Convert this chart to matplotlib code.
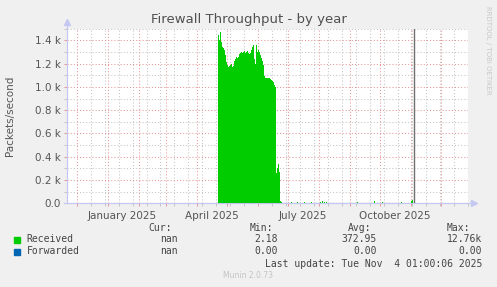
import numpy as np
import matplotlib
matplotlib.use("Agg")
import matplotlib.pyplot as plt
import matplotlib.dates as mdates
from matplotlib.patches import Rectangle
import datetime as dt

# ---------------- data (packets/second, daily averages) ----------------
title = "Firewall Throughput - by year"
ylabel = "Packets/second"

main_start = "2025-04-22"
received_main = [1450, 1400, 1470, 1390, 1340, 1330, 1320, 1270, 1210, 1190,
                 1170, 1180, 1190, 1200, 1170, 1180, 1220, 1240, 1260, 1250,
                 1260, 1280, 1290, 1300, 1290, 1300, 1310, 1290, 1300, 1310,
                 1290, 1280, 1290, 1320, 1340, 1360, 1240, 1200, 1360, 1300,
                 1320, 1300, 1270, 1250, 1220, 1190, 1090, 1080, 1080, 1080,
                 1080, 1080, 1070, 1060, 1050, 1040, 1020, 1000, 260, 300,
                 340, 270, 20]

quiet_level = 3          # near-zero traffic after mid-June
blip_dates = ["2025-06-24", "2025-07-04", "2025-07-10", "2025-07-17", "2025-07-24",
              "2025-08-02", "2025-08-04", "2025-08-06", "2025-08-08", "2025-09-08",
              "2025-09-25", "2025-10-03", "2025-10-22", "2025-11-01", "2025-11-02"]
blip_values = [15, 12, 12, 14, 14, 14, 16, 15, 14, 12, 18, 14, 14, 20, 30]
data_end = "2025-11-04"

month_label_dates = ["2025-01-16", "2025-04-16", "2025-07-16", "2025-10-16"]
month_labels = ["January 2025", "April 2025", "July 2025", "October 2025"]

legend_names = ["Received", "Forwarded"]
legend_colors = ["#00CC00", "#0066B3"]
cur_vals = ["nan", "nan"]
min_vals = ["2.18", "0.00"]
avg_vals = ["372.95", "0.00"]
max_vals = ["12.76k", "0.00"]
last_update = "Last update: Tue Nov  4 01:00:06 2025"
footer = "Munin 2.0.73"
side_text = "RRDTOOL / TOBI OETIKER"

# ---------------- build series ----------------
d0 = np.datetime64(main_start)
days_main = d0 + np.arange(len(received_main))
days_tail = np.arange(days_main[-1] + 1, np.datetime64(data_end) + 1)
tail_vals = np.full(len(days_tail), float(quiet_level))
for bd, bv in zip(blip_dates, blip_values):
    idx = np.where(days_tail == np.datetime64(bd))[0]
    if len(idx):
        tail_vals[idx[0]] = bv
days = np.concatenate([days_main, days_tail])
vals = np.concatenate([np.array(received_main, float), tail_vals])
days_edges = np.append(days, days[-1] + 1).astype("datetime64[s]").astype(dt.datetime)
vals_step = np.append(vals, vals[-1])

# ---------------- figure ----------------
W, H = 497, 287
fig = plt.figure(figsize=(W / 100, H / 100), dpi=100, facecolor="#F0F0F0")
L, R, T, B = 67, 468, 28.7, 203.3
ax = fig.add_axes([L / W, 1 - B / H, (R - L) / W, (B - T) / H])
ax.set_facecolor("white")

xmin = dt.datetime(2024, 11, 21, 7)
xmax = xmin + dt.timedelta(days=402)
ax.set_xlim(xmin, xmax)
ax.set_ylim(0, 1500)

red = "#E49696"
gray = "#C4C4C4"
axcol = "#C4C8F0"
txtcol = "#555555"

# grid
ax.xaxis.set_major_locator(mdates.MonthLocator())
biweekly = np.arange(np.datetime64("2024-11-17"), np.datetime64("2026-01-10"),
                     np.timedelta64(14, "D")).astype("datetime64[s]").astype(dt.datetime)
ax.xaxis.set_minor_locator(matplotlib.ticker.FixedLocator(mdates.date2num(biweekly)))
ax.xaxis.set_major_formatter(matplotlib.ticker.NullFormatter())
ax.yaxis.set_major_locator(matplotlib.ticker.MultipleLocator(200))
ax.yaxis.set_minor_locator(matplotlib.ticker.MultipleLocator(100))
ax.yaxis.set_major_formatter(matplotlib.ticker.FuncFormatter(
    lambda v, p: "0.0" if v == 0 else f"{v/1000:.1f} k"))

ax.grid(which="minor", color=gray, linestyle=(0, (1, 2)), linewidth=0.75)
ax.grid(which="major", color=red, linestyle=(0, (1, 2)), linewidth=0.75)
ax.set_axisbelow(True)

ax.tick_params(axis="both", which="major", length=2.5, width=0.7, color=red,
               labelsize=7.5, labelcolor=txtcol, pad=2)
ax.tick_params(axis="both", which="minor", length=2, width=0.7, color=gray)

for s in ax.spines.values():
    s.set_visible(False)

# data
ax.fill_between(days_edges, 0, vals_step, step="post", color="#00CC00",
                linewidth=0, zorder=3)
fwd = np.zeros(len(days_edges))
ax.plot(days_edges, fwd, color="#0066B3", linewidth=0.8, alpha=0.55, zorder=4)

# now line
now = dt.datetime(2025, 11, 4, 1)
ax.axvline(now, color="#707070", linewidth=1.0, zorder=5)

# axes lines with arrows
ax.plot([0, 0], [0, 1.035], transform=ax.transAxes, color=axcol, lw=0.9,
        clip_on=False, zorder=6)
ax.plot([-0.008, 1.012], [0, 0], transform=ax.transAxes, color=axcol, lw=0.9,
        clip_on=False, zorder=2)
ax.plot([0], [1.04], marker="^", transform=ax.transAxes, color=axcol, ms=4,
        clip_on=False)
ax.plot([1.014], [0], marker=">", transform=ax.transAxes, color=axcol, ms=4,
        clip_on=False)

# month labels
for d, lab in zip(month_label_dates, month_labels):
    ax.text(mdates.date2num(np.datetime64(d).astype(dt.datetime)), -0.045, lab,
            transform=ax.get_xaxis_transform(), ha="center", va="top",
            fontsize=7.5, color=txtcol)

# title and labels
fig.text(248.5 / W, 1 - 19 / H, title, ha="center", va="center",
         fontsize=9.5, color="#505050")
fig.text(10 / W, 1 - 115.5 / H, ylabel, rotation=90, ha="center", va="center",
         fontsize=7.5, color=txtcol)
fig.text(488 / W, 1 - 6 / H, side_text, rotation=270, ha="center", va="top",
         fontsize=5, color="#C8C8C8")

# legend block
mono = "DejaVu Sans Mono"
def ftxt(x, y, s, ha="right", **kw):
    fig.text(x / W, 1 - y / H, s, ha=ha, va="center", family=mono,
             fontsize=7, color="#444444", **kw)

ftxt(172, 228, "Cur:")
ftxt(272.7, 228, "Min:")
ftxt(371, 228, "Avg:")
ftxt(470, 228, "Max:")
rows_y = [239.5, 251.5]
for i, y in enumerate(rows_y):
    fig.patches.append(Rectangle((14 / W, 1 - (y + 3) / H), 5.5 / W, 5.5 / H,
                                 transform=fig.transFigure, color=legend_colors[i]))
    ftxt(26.5, y, legend_names[i], ha="left")
    ftxt(178, y, cur_vals[i])
    ftxt(278, y, min_vals[i])
    ftxt(377, y, avg_vals[i])
    ftxt(482, y, max_vals[i])
ftxt(482, 263.7, last_update)
fig.text(248 / W, 1 - 276 / H, footer, ha="center", va="center",
         fontsize=5.5, color="#C4C4C4")

fig.savefig("out.png", dpi=100, facecolor=fig.get_facecolor())
